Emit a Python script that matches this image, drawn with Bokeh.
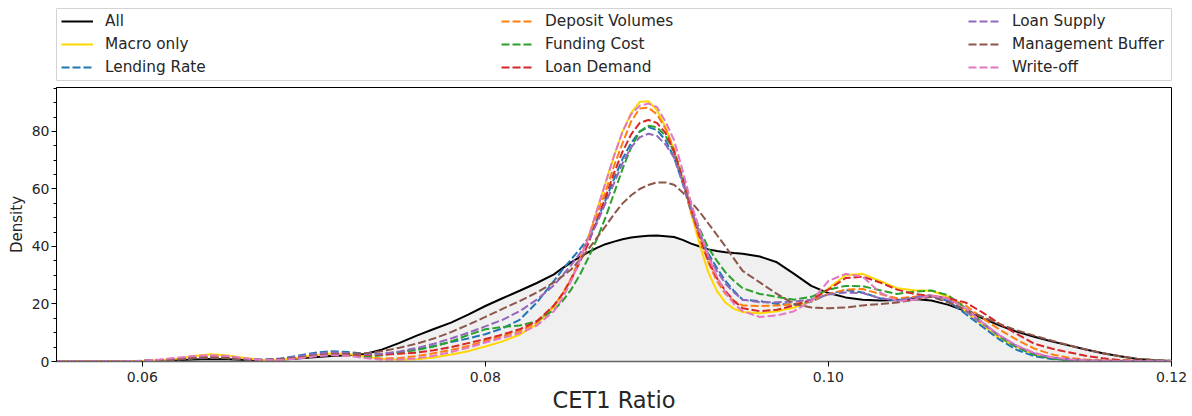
from bokeh.plotting import figure
from bokeh.models import Range1d, FixedTicker, PrintfTickFormatter, Legend, LegendItem
from bokeh.layouts import column
from bokeh.embed import file_html
from bokeh.resources import INLINE

# ---------------- data ----------------
cet1 = [0.055, 0.056, 0.057, 0.058, 0.059, 0.060, 0.061, 0.062, 0.063, 0.064,
        0.065, 0.066, 0.067, 0.068, 0.069, 0.070, 0.071, 0.072, 0.073, 0.074,
        0.075, 0.076, 0.077, 0.078, 0.079, 0.080, 0.081, 0.082, 0.083,
        0.0840, 0.0845, 0.0850, 0.0855, 0.0860, 0.0865, 0.0870, 0.0875, 0.0880, 0.0885,
        0.0890, 0.0895, 0.0900, 0.0905, 0.0910, 0.0915, 0.0920, 0.0925, 0.0930, 0.0935,
        0.0940, 0.0945, 0.0950,
        0.096, 0.097, 0.098, 0.099, 0.100, 0.101, 0.102, 0.103, 0.104,
        0.105, 0.106, 0.107, 0.108, 0.109, 0.110, 0.111, 0.112, 0.113, 0.114,
        0.115, 0.116, 0.117, 0.118, 0.119, 0.120]

all_kde = [0.1, 0.1, 0.1, 0.1, 0.1, 0.1, 0.2, 0.4, 0.7, 0.9,
           0.8, 0.5, 0.4, 0.6, 1.0, 1.5, 1.9, 2.2, 2.6, 4.2,
           6.5, 9.0, 11.3, 13.5, 16.3, 19.3, 22.0, 24.6, 27.3,
           30.3, 32.5, 34.5, 36.3, 38.0, 39.5, 40.8, 41.7, 42.5, 43.1,
           43.5, 43.7, 43.8, 43.6, 43.3, 42.3, 41.0, 40.0, 39.0, 38.4,
           38.0, 37.7, 37.5,
           36.5, 34.5, 30.5, 26.3, 23.8, 22.3, 21.5, 21.2, 21.4,
           21.7, 21.2, 19.7, 17.5, 15.0, 12.5, 10.3, 8.6, 7.0, 5.6,
           4.2, 2.9, 1.8, 0.9, 0.4, 0.2]

macro_only = [0.1, 0.1, 0.1, 0.1, 0.1, 0.2, 0.4, 1.0, 1.9, 2.5,
              2.1, 1.2, 0.5, 0.6, 1.3, 2.2, 2.8, 2.6, 1.7, 0.9,
              0.6, 0.8, 1.4, 2.4, 3.6, 5.2, 7.0, 9.3, 13.0,
              19.0, 23.5, 28.5, 35.0, 43.0, 52.5, 62.0, 71.5, 80.0, 86.5,
              90.3, 90.5, 87.5, 81.5, 73.5, 63.0, 51.5, 40.5, 31.0, 24.5,
              20.5, 18.3, 17.2,
              16.8, 17.5, 18.8, 21.0, 25.5, 30.0, 30.5, 28.0, 25.5,
              24.8, 24.6, 22.5, 17.5, 12.5, 8.0, 5.0, 2.5, 1.1, 0.5,
              0.3, 0.2, 0.2, 0.2, 0.2, 0.2]

lending_rate = [0.1, 0.1, 0.1, 0.1, 0.1, 0.2, 0.4, 0.8, 1.2, 1.4,
                1.2, 0.8, 0.6, 1.0, 1.9, 3.0, 3.6, 3.3, 2.7, 2.6,
                3.3, 4.2, 5.4, 6.8, 8.0, 9.5, 11.5, 14.5, 20.5,
                28.0, 32.0, 35.5, 39.0, 43.0, 49.0, 56.0, 63.5, 70.5, 76.0,
                80.0, 81.5, 80.5, 77.0, 71.0, 62.0, 52.0, 44.5, 37.5, 32.5,
                28.0, 24.5, 21.5,
                21.0, 20.0, 19.8, 20.8, 23.5, 24.8, 24.0, 22.0, 21.2,
                22.3, 22.8, 21.0, 16.5, 12.0, 7.5, 4.0, 1.8, 0.9, 0.5,
                0.3, 0.2, 0.2, 0.2, 0.2, 0.2]

deposit_volumes = [0.1, 0.1, 0.1, 0.1, 0.1, 0.2, 0.4, 0.8, 1.4, 1.8,
                   1.6, 1.0, 0.5, 0.6, 1.2, 2.0, 2.4, 2.1, 1.4, 1.0,
                   1.2, 1.9, 2.9, 4.0, 5.4, 7.2, 8.8, 10.5, 13.5,
                   19.5, 23.5, 29.0, 35.5, 43.0, 51.0, 59.0, 68.0, 76.0, 83.5,
                   88.0, 88.3, 86.0, 81.0, 74.0, 63.5, 52.0, 42.5, 34.5, 28.0,
                   23.5, 21.0, 19.5,
                   19.3, 19.5, 20.0, 21.0, 23.5, 25.0, 25.2, 23.5, 22.0,
                   22.5, 23.0, 22.0, 19.5, 15.0, 11.0, 7.5, 4.5, 2.5, 1.3,
                   0.7, 0.4, 0.3, 0.2, 0.2, 0.2]

funding_cost = [0.1, 0.1, 0.1, 0.1, 0.1, 0.2, 0.4, 0.7, 1.1, 1.3,
                1.1, 0.7, 0.5, 0.8, 1.5, 2.2, 2.6, 2.2, 1.6, 2.2,
                3.2, 4.0, 5.2, 7.0, 9.2, 11.2, 12.0, 12.5, 14.0,
                18.0, 21.0, 25.0, 30.0, 36.0, 42.5, 50.0, 58.5, 67.0, 74.5,
                80.0, 82.0, 81.5, 78.5, 73.0, 64.0, 54.0, 46.0, 39.5, 35.0,
                31.0, 28.0, 25.5,
                23.5, 22.5, 21.5, 22.5, 25.0, 26.3, 26.2, 24.8, 23.5,
                24.3, 24.7, 23.0, 18.5, 13.5, 8.5, 4.8, 2.3, 1.0, 0.5,
                0.3, 0.2, 0.2, 0.2, 0.2, 0.2]

loan_demand = [0.1, 0.1, 0.1, 0.1, 0.1, 0.2, 0.4, 0.8, 1.2, 1.4,
               1.2, 0.8, 0.5, 0.7, 1.3, 2.0, 2.4, 2.4, 2.3, 2.4,
               2.7, 3.1, 3.9, 5.0, 6.4, 7.8, 9.4, 11.2, 14.0,
               19.5, 23.5, 28.5, 34.5, 41.0, 49.0, 57.0, 65.5, 73.0, 79.0,
               83.0, 84.0, 83.0, 79.5, 73.0, 63.5, 53.0, 43.5, 35.0, 29.0,
               24.5, 21.0, 18.5,
               17.5, 18.0, 19.5, 21.5, 25.0, 29.0, 29.5, 27.5, 25.0,
               23.5, 22.8, 22.0, 20.5, 17.0, 13.0, 9.5, 6.2, 4.5, 3.2,
               2.0, 1.1, 0.5, 0.3, 0.2, 0.2]

loan_supply = [0.1, 0.1, 0.1, 0.1, 0.1, 0.2, 0.4, 0.8, 1.2, 1.4,
               1.2, 0.8, 0.6, 0.9, 1.7, 2.6, 3.2, 2.9, 2.5, 2.7,
               3.5, 4.7, 6.2, 8.0, 10.0, 12.2, 14.5, 17.5, 21.5,
               26.5, 30.0, 33.5, 37.5, 42.0, 48.0, 55.0, 62.0, 69.0, 74.5,
               78.0, 79.2, 78.5, 75.5, 71.0, 62.5, 53.0, 44.5, 36.5, 31.5,
               27.0, 24.0, 21.5,
               20.6, 20.6, 20.8, 21.5, 23.3, 24.0, 23.8, 22.0, 21.2,
               22.3, 23.0, 21.5, 17.5, 13.0, 9.0, 5.3, 2.8, 1.4, 0.8,
               0.4, 0.3, 0.2, 0.2, 0.2, 0.2]

management_buffer = [0.1, 0.1, 0.1, 0.1, 0.1, 0.2, 0.4, 0.8, 1.2, 1.4,
                     1.2, 0.8, 0.5, 0.8, 1.3, 2.0, 2.5, 2.6, 2.9, 3.6,
                     4.8, 6.2, 8.0, 10.2, 12.8, 15.5, 18.3, 21.0, 24.0,
                     27.5, 29.7, 32.0, 35.3, 39.0, 43.0, 47.0, 51.2, 55.0, 57.8,
                     60.0, 61.4, 62.3, 62.3, 61.5, 58.8, 55.5, 52.0, 48.0, 44.0,
                     40.0, 35.7, 31.5,
                     27.5, 23.5, 20.0, 18.8, 18.5, 18.8, 19.5, 20.0, 20.5,
                     21.5, 22.5, 20.5, 18.0, 15.5, 13.0, 10.8, 9.0, 7.3, 5.7,
                     4.2, 2.9, 1.8, 1.0, 0.5, 0.3]

write_off = [0.1, 0.1, 0.1, 0.1, 0.1, 0.3, 0.7, 1.3, 1.9, 2.2,
             1.9, 1.1, 0.5, 0.5, 1.0, 1.7, 2.2, 2.0, 1.2, 0.6,
             0.7, 1.1, 2.0, 3.3, 4.8, 6.6, 8.2, 9.8, 12.5,
             17.5, 22.0, 28.0, 35.0, 43.0, 52.5, 62.0, 71.5, 80.0, 86.0,
             89.0, 89.7, 88.5, 83.5, 77.0, 66.5, 55.0, 45.5, 36.5, 29.5,
             24.0, 20.0, 17.5,
             15.5, 16.0, 17.5, 21.0, 28.0, 30.5, 29.5, 24.0, 21.0,
             21.5, 23.0, 21.8, 18.5, 13.5, 9.0, 5.5, 3.0, 1.5, 0.8,
             0.4, 0.3, 0.2, 0.2, 0.2, 0.2]

x_ticks = [0.06, 0.08, 0.10, 0.12]
y_ticks = [0, 20, 40, 60, 80]
y_minor_ticks = [5, 10, 15, 25, 30, 35, 45, 50, 55, 65, 70, 75, 85, 90, 95]

solid_series = [("All", all_kde, "#000000"), ("Macro only", macro_only, "#FFD700")]
dashed_series = [("Lending Rate", lending_rate, "#1f77b4"),
                 ("Deposit Volumes", deposit_volumes, "#ff7f0e"),
                 ("Funding Cost", funding_cost, "#2ca02c"),
                 ("Loan Demand", loan_demand, "#d62728"),
                 ("Loan Supply", loan_supply, "#9467bd"),
                 ("Management Buffer", management_buffer, "#8c564b"),
                 ("Write-off", write_off, "#e377c2")]

FONT = "DejaVu Sans"
TXT = "#262626"
DASH = "8 3"

# ---------------- main plot ----------------
p = figure(frame_width=1115, frame_height=274,
           min_border_left=56, min_border_right=21, min_border_top=6, min_border_bottom=54,
           x_range=Range1d(0.055, 0.12), y_range=Range1d(0, 95.3),
           output_backend="svg", toolbar_location=None, tools="")
p.grid.visible = False
p.outline_line_color = "black"
p.outline_line_width = 1
p.background_fill_color = "white"

p.varea(x=cet1, y1=0, y2=all_kde, fill_color="#f0f0f0")
for name, vals, col in solid_series:
    p.line(cet1, vals, line_color=col, line_width=2, line_join="round")
for name, vals, col in dashed_series:
    p.line(cet1, vals, line_color=col, line_width=2, line_dash=DASH, line_join="round")

p.xaxis.ticker = FixedTicker(ticks=x_ticks, minor_ticks=[])
p.xaxis.formatter = PrintfTickFormatter(format="%.2f")
p.yaxis.ticker = FixedTicker(ticks=y_ticks, minor_ticks=y_minor_ticks)
for ax in (p.xaxis[0], p.yaxis[0]):
    ax.major_tick_out = 5
    ax.major_tick_in = 0
    ax.minor_tick_out = 3
    ax.minor_tick_in = 0
    ax.major_tick_line_color = "black"
    ax.minor_tick_line_color = "black"
    ax.axis_line_color = "black"
    ax.major_label_text_font = FONT
    ax.major_label_text_font_size = "14px"
    ax.major_label_text_color = TXT
    ax.axis_label_text_font = FONT
    ax.axis_label_text_font_style = "normal"
    ax.axis_label_text_color = TXT
p.xaxis.axis_line_color = "#666666"
p.xaxis.axis_line_width = 1.5
p.xaxis.major_label_standoff = 5
p.xaxis.axis_label = "CET1 Ratio"
p.xaxis.axis_label_text_font_size = "22.5px"
p.xaxis.axis_label_standoff = 2
p.yaxis.major_label_standoff = 2
p.yaxis.axis_label = "Density"
p.yaxis.axis_label_text_font_size = "15px"
p.yaxis.axis_label_standoff = 3

# ---------------- legend panel ----------------
lf = figure(frame_width=1115, frame_height=73,
            min_border_left=56, min_border_right=21, min_border_top=8, min_border_bottom=0,
            x_range=Range1d(0, 1), y_range=Range1d(0, 1),
            x_axis_location=None, y_axis_location=None,
            output_backend="svg", toolbar_location=None, tools="")
lf.grid.visible = False
lf.outline_line_color = "#d4d4d4"
lf.outline_line_width = 1

items = []
for name, vals, col in solid_series:
    r = lf.line(x=[-5, -4], y=[-5, -4], line_color=col, line_width=2)
    items.append(LegendItem(label=name, renderers=[r]))
for name, vals, col in dashed_series:
    r = lf.line(x=[-5, -4], y=[-5, -4], line_color=col, line_width=2, line_dash=DASH)
    items.append(LegendItem(label=name, renderers=[r]))

col_offsets = [5, 445, 912]
for c in range(3):
    leg = Legend(items=items[3 * c:3 * c + 3], location=(col_offsets[c], 4),
                 orientation="vertical", margin=0, padding=0, spacing=3,
                 glyph_width=32, glyph_height=20, label_height=20,
                 label_standoff=12, border_line_color=None, background_fill_alpha=0,
                 label_text_font=FONT, label_text_font_size="15.3px",
                 label_text_color=TXT)
    lf.add_layout(leg, "center")

layout = column(lf, p, spacing=0)
open("out.html", "w").write(file_html(layout, INLINE))
